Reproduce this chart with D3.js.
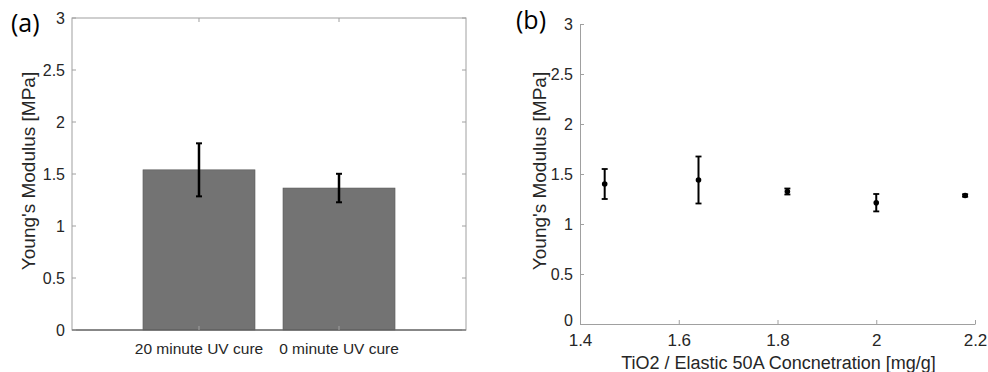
<!DOCTYPE html>
<html>
<head>
<meta charset="utf-8">
<script src="https://cdn.jsdelivr.net/npm/d3@7"></script>
<style>
  body { margin: 0; background: #fff; }
</style>
</head>
<body>
<script>
// panel (a) data
const cureLabels = ["20 minute UV cure", "0 minute UV cure"];
const cureMeans = [1.54, 1.365];
const cureErr = [0.255, 0.137];

// panel (b) data
const concX = [1.45, 1.64, 1.82, 2.0, 2.18];
const concMeans = [1.40, 1.44, 1.325, 1.213, 1.285];
const concErr = [0.15, 0.235, 0.03, 0.087, 0.012];

const yTicks = [0, 0.5, 1, 1.5, 2, 2.5, 3];
const xTicksB = [1.4, 1.6, 1.8, 2, 2.2];

const FONT = "'Liberation Sans', Arial, Helvetica, sans-serif";
const width = 988, height = 372;
const svg = d3.select("body").append("svg")
  .attr("width", width)
  .attr("height", height);

const fmt = d => String(d);
const label = sel => sel.style("font-family", FONT).style("fill", "#262626");

// ---------- Panel (a): bar chart ----------
const ax = { left: 72, right: 466, top: 18, bottom: 330 };
const xA = d3.scaleLinear().domain([1 - 0.907, 2 + 0.907]).range([ax.left, ax.right]);
const yA = d3.scaleLinear().domain([0, 3]).range([ax.bottom, ax.top]);

const gA = svg.append("g");

// bars
gA.selectAll("rect.bar")
  .data(cureMeans)
  .join("rect")
  .attr("class", "bar")
  .attr("x", (d, i) => xA(i + 1 - 0.4))
  .attr("width", xA(1.4) - xA(0.6))
  .attr("y", d => yA(d))
  .attr("height", d => yA(0) - yA(d))
  .attr("fill", "#737373")
  .attr("stroke", "#5a5a5a")
  .attr("stroke-width", 0.6);

// box
gA.append("rect")
  .attr("x", ax.left).attr("y", ax.top)
  .attr("width", ax.right - ax.left).attr("height", ax.bottom - ax.top)
  .attr("fill", "none").attr("stroke", "#a0a0a0").attr("stroke-width", 1);
gA.append("line")
  .attr("x1", ax.left).attr("x2", ax.right)
  .attr("y1", ax.bottom).attr("y2", ax.bottom)
  .attr("stroke", "#404040");

// y ticks (left and right, inward)
gA.selectAll("line.ytl").data(yTicks).join("line")
  .attr("x1", ax.left).attr("x2", ax.left + 4)
  .attr("y1", d => yA(d)).attr("y2", d => yA(d))
  .attr("stroke", "#a0a0a0");
gA.selectAll("line.ytr").data(yTicks).join("line")
  .attr("x1", ax.right).attr("x2", ax.right - 4)
  .attr("y1", d => yA(d)).attr("y2", d => yA(d))
  .attr("stroke", "#a0a0a0");
gA.selectAll("text.ylab").data(yTicks).join("text")
  .attr("x", ax.left - 7)
  .attr("y", d => yA(d))
  .attr("dy", "0.35em")
  .attr("text-anchor", "end")
  .attr("font-size", 16)
  .call(label)
  .text(fmt);

// x category ticks (top and bottom)
gA.selectAll("line.xtt").data(cureLabels).join("line")
  .attr("x1", (d, i) => xA(i + 1)).attr("x2", (d, i) => xA(i + 1))
  .attr("y1", ax.top).attr("y2", ax.top + 4)
  .attr("stroke", "#a0a0a0");
gA.selectAll("line.xtb").data(cureLabels).join("line")
  .attr("x1", (d, i) => xA(i + 1)).attr("x2", (d, i) => xA(i + 1))
  .attr("y1", ax.bottom).attr("y2", ax.bottom - 4)
  .attr("stroke", "#a0a0a0");
gA.selectAll("text.xlab").data(cureLabels).join("text")
  .attr("x", (d, i) => xA(i + 1))
  .attr("y", 354)
  .attr("text-anchor", "middle")
  .attr("font-size", 15.5)
  .call(label)
  .text(d => d);

// error bars
const errA = gA.selectAll("g.err").data(cureMeans).join("g");
errA.append("line")
  .attr("x1", (d, i) => xA(i + 1)).attr("x2", (d, i) => xA(i + 1))
  .attr("y1", (d, i) => yA(d + cureErr[i])).attr("y2", (d, i) => yA(d - cureErr[i]))
  .attr("stroke", "#000").attr("stroke-width", 2.5);
[1, -1].forEach(s => {
  errA.append("line")
    .attr("x1", (d, i) => xA(i + 1) - 3).attr("x2", (d, i) => xA(i + 1) + 3)
    .attr("y1", (d, i) => yA(d + s * cureErr[i])).attr("y2", (d, i) => yA(d + s * cureErr[i]))
    .attr("stroke", "#000").attr("stroke-width", 2);
});

gA.append("text")
  .attr("transform", `translate(35, ${(ax.top + ax.bottom) / 2 - 3}) rotate(-90)`)
  .attr("text-anchor", "middle")
  .attr("font-size", 19)
  .call(label)
  .text("Young's Modulus [MPa]");

svg.append("text")
  .attr("x", 11).attr("y", 32)
  .style("font-family", "'Open Sans', sans-serif")
  .style("fill", "#000")
  .attr("font-size", 25)
  .text("(a)");

// ---------- Panel (b): scatter with error bars ----------
const bx = { left: 580, right: 975, top: 24, bottom: 324 };
const xB = d3.scaleLinear().domain([1.4, 2.2]).range([bx.left, bx.right]);
const yB = d3.scaleLinear().domain([0, 3]).range([bx.bottom, bx.top]);

const gB = svg.append("g");

gB.append("g")
  .attr("transform", `translate(0, ${bx.bottom})`)
  .call(d3.axisBottom(xB).tickValues(xTicksB).tickFormat(fmt).tickSizeInner(-4).tickSizeOuter(0).tickPadding(10))
  .call(g => g.select(".domain").attr("stroke", "#a0a0a0"))
  .call(g => g.selectAll(".tick line").attr("stroke", "#a0a0a0"))
  .call(g => g.selectAll("text").attr("font-size", 17).call(label));

gB.append("g")
  .attr("transform", `translate(${bx.left}, 0)`)
  .call(d3.axisLeft(yB).tickValues(yTicks).tickFormat(fmt).tickSizeInner(-4).tickSizeOuter(0).tickPadding(7))
  .call(g => g.select(".domain").attr("stroke", "#a0a0a0"))
  .call(g => g.selectAll(".tick line").attr("stroke", "#a0a0a0"))
  .call(g => g.selectAll("text").attr("font-size", 16).call(label))
  .call(g => g.selectAll(".tick text").filter(d => d === 0).attr("dy", "0.1em"));

const pts = concX.map((x, i) => ({ x, m: concMeans[i], e: concErr[i] }));
const errB = gB.selectAll("g.pt").data(pts).join("g");
errB.append("line")
  .attr("x1", d => xB(d.x)).attr("x2", d => xB(d.x))
  .attr("y1", d => yB(d.m + d.e)).attr("y2", d => yB(d.m - d.e))
  .attr("stroke", "#000").attr("stroke-width", 2);
[1, -1].forEach(s => {
  errB.append("line")
    .attr("x1", d => xB(d.x) - 3).attr("x2", d => xB(d.x) + 3)
    .attr("y1", d => yB(d.m + s * d.e)).attr("y2", d => yB(d.m + s * d.e))
    .attr("stroke", "#000").attr("stroke-width", 1.8);
});
errB.append("circle")
  .attr("cx", d => xB(d.x)).attr("cy", d => yB(d.m))
  .attr("r", 2.8).attr("fill", "#000");

gB.append("text")
  .attr("transform", `translate(546, ${(bx.top + bx.bottom) / 2 - 3}) rotate(-90)`)
  .attr("text-anchor", "middle")
  .attr("font-size", 19)
  .call(label)
  .text("Young's Modulus [MPa]");

gB.append("text")
  .attr("x", (bx.left + bx.right) / 2 + 1)
  .attr("y", 369)
  .attr("text-anchor", "middle")
  .attr("font-size", 18)
  .call(label)
  .text("TiO2 / Elastic 50A Concnetration [mg/g]");

svg.append("text")
  .attr("x", 516).attr("y", 29)
  .style("font-family", "'Open Sans', sans-serif")
  .style("fill", "#000")
  .attr("font-size", 25)
  .text("(b)");
</script>
</body>
</html>
